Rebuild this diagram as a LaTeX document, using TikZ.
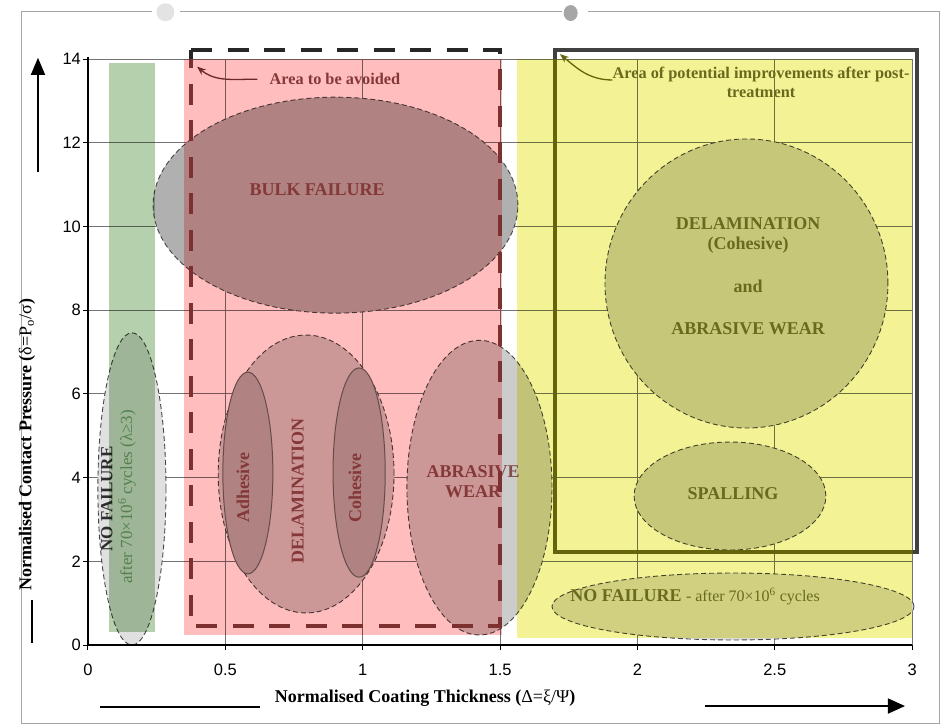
\documentclass[tikz,border=0pt]{standalone}
\usepackage{fontspec}
\setmainfont{Liberation Serif}
\newfontfamily\ticksfont{Liberation Sans}
\usepackage{xcolor}
\usepackage{tikz}
\usetikzlibrary{arrows.meta}

\definecolor{avoidpink}{RGB}{255,189,189}
\definecolor{okgreen}{RGB}{180,208,172}
\definecolor{postyellow}{RGB}{243,243,150}
\definecolor{avoidline}{RGB}{125,48,48}
\definecolor{postline}{RGB}{100,100,12}
\definecolor{gridgray}{RGB}{115,115,115}
\definecolor{zoneedge}{RGB}{70,70,70}
\definecolor{maroontext}{RGB}{132,76,76}
\definecolor{olivetext}{RGB}{112,112,52}
\definecolor{greentext}{RGB}{120,158,118}
\definecolor{darktext}{RGB}{45,45,45}

\begin{document}
\begin{tikzpicture}[x=274.7pt,y=41.85pt,
  gridline/.style={draw=gridgray,line width=0.8pt},
  zone/.style={draw=zoneedge,line width=0.9pt,dash pattern=on 5pt off 3pt},
  subzone/.style={draw=black!60,line width=1pt},
  ticklbl/.style={font=\ticksfont\fontsize{16.5}{18}\selectfont,inner sep=0pt},
  bigtxt/.style={font=\fontsize{18}{20}\selectfont\bfseries,inner sep=0pt,align=center},
  areatxt/.style={font=\fontsize{16.3}{18}\selectfont\bfseries,inner sep=0pt},
  axtitle/.style={font=\fontsize{18}{20}\selectfont\bfseries,inner sep=0pt},
  pageedge/.style={draw=gray!70,line width=0.9pt}]

  % Page size
  \useasboundingbox (-0.3203,-1.9116) rectangle (3.1270,15.412);

  % Scanned page edge
  \draw[pageedge] (-0.244,15.15) -- (-0.244,-1.864) -- (3.101,-1.864) -- (3.101,15.15) -- (1.820,15.15);
  \draw[pageedge] (1.7255,15.15) -- (0.335,15.15);
  \draw[pageedge] (0.233,15.15) -- (-0.244,15.15);
  \fill[gray!22] (0.282,15.12) circle[radius=9pt];
  \fill[gray!70] (1.757,15.10) ellipse[x radius=7pt,y radius=8pt];

  % Grid
  \foreach \gx in {0.5,1,...,3} \draw[gridline] (\gx,0) -- (\gx,14);
  \foreach \gy in {2,4,...,14} \draw[gridline] (0,\gy) -- (3,\gy);

  % Failure zones
  \filldraw[zone,fill=black!12] (0.160,3.73) ellipse[x radius=0.124,y radius=3.73];
  \filldraw[zone,fill=black!31] (0.901,10.51) ellipse[x radius=0.664,y radius=2.58];
  \filldraw[zone,fill=black!20] (0.794,4.086) ellipse[x radius=0.320,y radius=3.32];
  \filldraw[subzone,fill=black!31] (0.582,4.11) ellipse[x radius=0.091,y radius=2.41];
  \filldraw[subzone,fill=black!31] (0.987,4.12) ellipse[x radius=0.095,y radius=2.50];
  \filldraw[zone,fill=black!20] (1.425,3.76) ellipse[x radius=0.264,y radius=3.52];
  \filldraw[zone,fill=black!18] (2.397,8.638) ellipse[x radius=0.515,y radius=3.453];
  \filldraw[zone,fill=black!18] (2.337,3.56) ellipse[x radius=0.349,y radius=1.29];
  \filldraw[zone,fill=black!14] (2.348,0.92) ellipse[x radius=0.659,y radius=0.80];

  % Zone labels
  \node[bigtxt,rotate=90,text=darktext,font=\fontsize{17}{19}\selectfont\bfseries] (nofailL) at (0.069,3.49) {NO FAILURE};
  \node[inner sep=0pt,rotate=90,text=greentext,font=\fontsize{17}{19}\selectfont] (nofailLb) at (0.142,3.54) {after 70×10\textsuperscript{6} cycles (λ≥3)};
  \node[bigtxt,text=maroontext] (bulk) at (0.834,10.87) {BULK FAILURE};
  \node[bigtxt,rotate=90,text=maroontext] (delam) at (0.764,3.68) {DELAMINATION};
  \node[bigtxt,rotate=90,text=maroontext] (adhes) at (0.564,3.76) {Adhesive};
  \node[bigtxt,rotate=90,text=maroontext] (cohes) at (0.972,3.75) {Cohesive};
  \node[bigtxt,text=maroontext] (abras) at (1.402,3.90) {ABRASIVE\\WEAR};
  \node[bigtxt,text=olivetext] (delcoh) at (2.403,10.08) {DELAMINATION};
  \node[bigtxt,text=olivetext] (cohpar) at (2.403,9.56) {(Cohesive)};
  \node[bigtxt,text=olivetext] (andtxt) at (2.403,8.58) {and};
  \node[bigtxt,text=olivetext] (abrwear) at (2.403,7.57) {ABRASIVE WEAR};
  \node[bigtxt,text=olivetext] (spall) at (2.348,3.61) {SPALLING};
  \node[bigtxt,text=olivetext] (nofailB) at (2.210,1.15) {NO FAILURE {\fontsize{16}{18}\selectfont\mdseries - after 70×10\textsuperscript{6} cycles}};

  % Region notes
  \node[areatxt,text=maroontext] (avoidtxt) at (0.899,13.52) {Area to be avoided};
  \node[areatxt,text=olivetext] (posttxt) at (2.450,13.62) {Area of potential improvements after post-};
  \node[areatxt,text=olivetext] (posttxt2) at (2.450,13.19) {treatment};

  % Coloured regions
  \begin{scope}[blend mode=multiply]
    \fill[okgreen] (0.076,0.31) rectangle (0.244,13.91);
    \fill[avoidpink] (0.349,0.24) rectangle (1.507,14);
    \fill[postyellow] (1.562,0.17) rectangle (3.0,14);
  \end{scope}

  % Area to be avoided
  \draw[avoidline,line width=4.5pt,dash pattern=on 21pt off 15.5pt] (0.375,14.22) -- (1.5,14.22) -- (1.5,0.454) -- (0.375,0.454) -- cycle;
  \begin{scope}
    \clip (0.3,14.02) rectangle (1.6,14.6);
    \draw[black!85,line width=4.5pt,dash pattern=on 21pt off 15.5pt] (0.375,14.22) -- (1.5,14.22) -- (1.5,0.454) -- (0.375,0.454) -- cycle;
  \end{scope}

  % Area of potential improvements
  \draw[postline,line width=4pt] (1.700,2.22) -- (1.700,14.22) -- (3.018,14.22) -- (3.018,2.22) -- cycle;
  \begin{scope}
    \clip (1.6,14.02) rectangle (3.1,14.6);
    \draw[black!75,line width=4pt] (1.700,2.22) -- (1.700,14.22) -- (3.018,14.22) -- (3.018,2.22) -- cycle;
  \end{scope}
  \begin{scope}
    \clip (3.003,2) rectangle (3.1,14.6);
    \draw[black!75,line width=4pt] (1.700,2.22) -- (1.700,14.22) -- (3.018,14.22) -- (3.018,2.22) -- cycle;
  \end{scope}

  % Pointers to the regions
  \coordinate (avoidcorner) at (0.397,13.82);
  \coordinate (postcorner) at (1.718,14.12);
  \draw[{Stealth[length=9pt,width=7pt]}-,line width=1.3pt,draw=avoidline!85!black] (avoidcorner) to[out=-40,in=180] ([xshift=-12pt]avoidtxt.west);
  \draw[{Stealth[length=9pt,width=7pt]}-,line width=1.3pt,draw=postline] (postcorner) to[out=-40,in=180] ([yshift=-5pt]posttxt.west);

  % Axes and ticks
  \draw[line width=2pt] (0,14.05) -- (0,0) -- (3,0);
  \foreach \gx/\lab [count=\i] in {0/0,0.5/0.5,1/1,1.5/1.5,2/2,2.5/2.5,3/3}{
    \draw[line width=1pt] (\gx,0) -- ++(0,-5pt);
    \node[ticklbl] (xt\i) at (\gx,-0.6) {\lab};
  }
  \foreach \gy [count=\i] in {0,2,...,14}{
    \draw[line width=1pt] (0,\gy) -- ++(-5pt,0);
    \node[ticklbl,anchor=east] (yt\i) at (-0.025,\gy) {\gy};
  }

  % Axis titles
  \node[axtitle] (xtitle) at (1.227,-1.266) {Normalised Coating Thickness ({\mdseries Δ=ξ/Ψ})};
  \node[axtitle,rotate=90] (ytitle) at (-0.222,4.78) {Normalised Contact Pressure ({\mdseries δ=P\textsubscript{o}/σ})};

  % Direction arrows
  \coordinate (yarrS) at (-0.182,11.30);
  \coordinate (yarrE) at (-0.182,14.03);
  \coordinate (ybarS) at (-0.204,1.075);
  \coordinate (ybarE) at (-0.204,0.05);
  \coordinate (xbarS) at (0.044,-1.48);
  \coordinate (xbarE) at (0.626,-1.48);
  \coordinate (xarrS) at (2.246,-1.458);
  \coordinate (xarrE) at (2.974,-1.458);
  \draw[-{Triangle[length=17pt,width=14pt]},line width=1.6pt] (yarrS) -- (yarrE);
  \draw[line width=2pt] (ybarS) -- (ybarE);
  \draw[line width=2pt] (xbarS) -- (xbarE);
  \draw[-{Triangle[length=17pt,width=15pt]},line width=1.6pt] (xarrS) -- (xarrE);
\end{tikzpicture}
\end{document}
